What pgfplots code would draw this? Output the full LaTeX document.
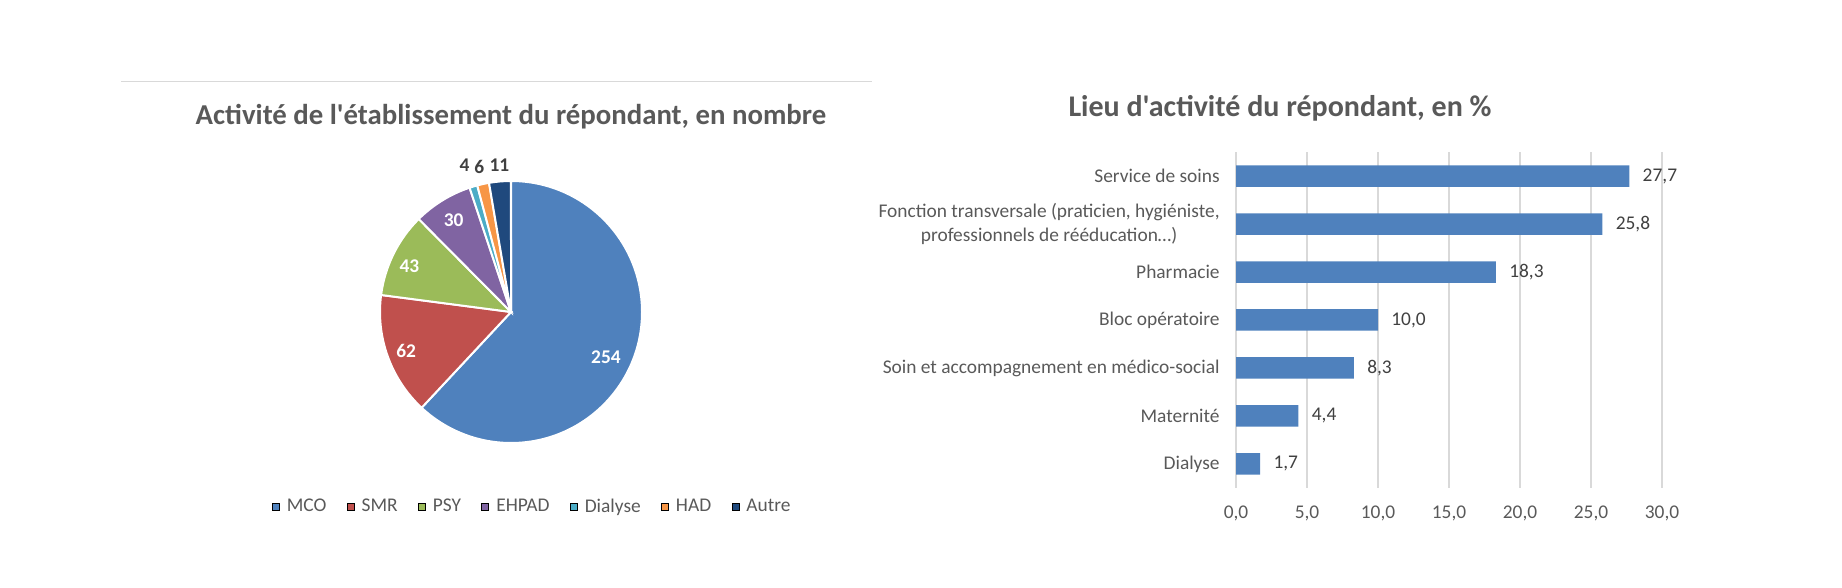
\documentclass[border=0pt]{standalone}
\usepackage{pgfplots}
\pgfplotsset{compat=1.18}
\usepackage{pgfplotstable}
\usepackage{fontspec}
\setmainfont{Carlito}[Ligatures=TeXOff]
\definecolor{cMCO}{HTML}{4F81BD}
\definecolor{cSMR}{HTML}{C0504D}
\definecolor{cPSY}{HTML}{9BBB59}
\definecolor{cEHPAD}{HTML}{8064A2}
\definecolor{cDia}{HTML}{4BACC6}
\definecolor{cHAD}{HTML}{F79646}
\definecolor{cAutre}{HTML}{1F497D}
\definecolor{cTxt}{HTML}{595959}
\definecolor{cDark}{HTML}{404040}
\definecolor{cGrid}{HTML}{D9D9D9}
\pgfplotstableread{
y val
0 1.7
1 4.4
2 8.3
3 10.0
4 18.3
5 25.8
6 27.7
}\lieu
\newcommand\lab{\fontsize{9.7}{11.6}\selectfont}
\newcommand\ttl{\fontsize{15}{18}\selectfont\bfseries}
% values: MCO 254, SMR 62, PSY 43, EHPAD 30, Dialyse 4, HAD 6, Autre 11 (total 410)
\pgfmathsetmacro\pk{360/410}
\newcommand\pieslice[3]{%
  \fill[#1, draw=white, line width=1pt] (axis cs:0,0) -- (axis cs:{cos(90-#2*\pk)},{sin(90-#2*\pk)})
    arc[start angle={90-#2*\pk}, end angle={90-#3*\pk}, radius=65.5pt] -- cycle;}
\begin{document}
\begin{tikzpicture}
\useasboundingbox (0,0) rectangle (921pt,294pt);
\draw[cGrid, line width=0.5pt] (60.5pt,253pt) -- (436pt,253pt);
\node[text=cTxt, font=\fontsize{14.4}{17}\selectfont\bfseries] at (255.5pt,235.5pt) {Activité de l'établissement du répondant, en nombre};
\node[text=cTxt, font=\ttl] at (640pt,240pt) {Lieu d'activité du répondant, en \%};
% ---- pie
\begin{axis}[
  at={(255.5pt,138pt)}, anchor=center,
  x=65.5pt, y=65.5pt, xmin=-1, xmax=1, ymin=-1, ymax=1,
  hide axis, clip=false,
  legend columns=7,
  legend style={draw=none, fill=none, at={(0.585,-0.244)}, anchor=center,
    font=\lab, text=cTxt, inner sep=0pt,
    /tikz/every odd column/.append style={column sep=1.5pt},
    /tikz/every even column/.append style={column sep=8.2pt}},
  legend image code/.code={\fill[#1] (0pt,-1.75pt) rectangle (3.5pt,1.75pt);},
]
\pieslice{cMCO}{0}{254}
\pieslice{cSMR}{254}{316}
\pieslice{cPSY}{316}{359}
\pieslice{cEHPAD}{359}{389}
\pieslice{cDia}{389}{393}
\pieslice{cHAD}{393}{399}
\pieslice{cAutre}{399}{410}
\node[text=white, font=\lab\bfseries] at (axis cs:0.725,-0.343) {254};
\node[text=white, font=\lab\bfseries] at (axis cs:-0.80,-0.298) {62};
\node[text=white, font=\lab\bfseries] at (axis cs:-0.776,0.349) {43};
\node[text=white, font=\lab\bfseries] at (axis cs:-0.438,0.70) {30};
\node[text=cDark, font=\lab\bfseries] at (axis cs:-0.354,1.12) {4};
\node[text=cDark, font=\lab\bfseries] at (axis cs:-0.242,1.11) {6};
\node[text=cDark, font=\lab\bfseries] at (axis cs:-0.089,1.12) {11};
\addlegendimage{fill=cMCO}\addlegendentry{MCO}
\addlegendimage{fill=cSMR}\addlegendentry{SMR}
\addlegendimage{fill=cPSY}\addlegendentry{PSY}
\addlegendimage{fill=cEHPAD}\addlegendentry{EHPAD}
\addlegendimage{fill=cDia}\addlegendentry{Dialyse}
\addlegendimage{fill=cHAD}\addlegendentry{HAD}
\addlegendimage{fill=cAutre}\addlegendentry{Autre}
\end{axis}
% ---- bars
\begin{axis}[
  at={(618pt,50pt)}, anchor=south west,
  scale only axis, width=213pt, height=168pt,
  xmin=0, xmax=30, ymin=-0.5, ymax=6.5,
  xtick={0,5,...,30}, ytick={0,...,6},
  yticklabels={Dialyse, Maternité, Soin et accompagnement en médico-social, Bloc opératoire, Pharmacie,
    {Fonction transversale (praticien, hygiéniste,\\professionnels de rééducation…)}, Service de soins},
  xmajorgrids, grid style={cGrid, line width=0.6pt},
  axis line style={draw=none}, tick style={draw=none},
  /pgf/number format/.cd, fixed, fixed zerofill, precision=1, use comma, assume math mode=true,
  /pgfplots/.cd,
  xticklabel style={font=\lab, text=cTxt, anchor=base, inner sep=0pt, yshift=-15.5pt},
  yticklabel style={font=\lab, text=cTxt, align=center, anchor=east, inner sep=0pt, xshift=-8pt},
  clip=false,
]
\addplot[xbar, fill=cMCO, draw=none, bar width=10.75pt, point meta=x,
  nodes near coords={\pgfmathprintnumber[fixed,fixed zerofill,precision=1,use comma,assume math mode=true]{\pgfplotspointmeta}},
  nodes near coords style={font=\lab, text=cDark, anchor=west, inner sep=0pt, xshift=6.5pt}]
  table[x=val, y=y]{\lieu};
\end{axis}
\end{tikzpicture}
\end{document}
